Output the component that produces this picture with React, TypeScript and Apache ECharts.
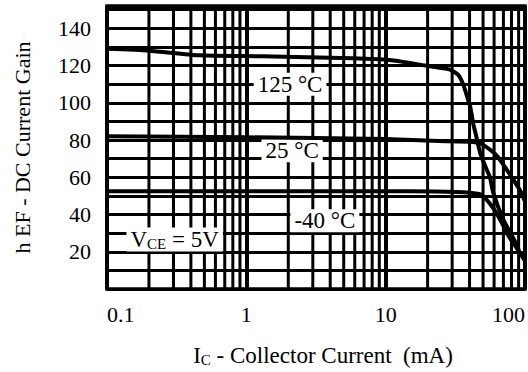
import React, { useEffect, useRef } from "react";
import * as echarts from "echarts";

const FONT = "'Liberation Serif', 'Times New Roman', serif";

// Collector current (mA) and DC current gain for each temperature
const ic125 = [0.1, 0.2, 0.46, 1.3, 5.8, 10.7, 19.3, 28.6, 33.2, 36, 38, 40.5, 42.5, 44.7, 47.7, 51.8, 56, 59, 69.6, 86, 92];
const hfe125 = [129, 128, 125.5, 125, 124, 123, 120, 118, 115, 110, 104.5, 97.7, 88.8, 82, 73, 66, 60, 52, 37.6, 24.6, 19];

const ic25 = [0.1, 1, 10, 24, 42.5, 50, 62, 75.6, 92, 100];
const hfe25 = [82, 81.5, 80.5, 79.5, 79, 77.5, 72, 63, 53, 47];

const icM40 = [0.1, 1, 10, 15, 47, 61, 77, 91, 100];
const hfeM40 = [52.5, 52.5, 52.5, 52.5, 51, 42, 28, 20, 15];

// Axis ticks
const yTickLabels = [20, 40, 60, 80, 100, 120, 140];
const minorGridX = [
  0.2, 0.3, 0.4, 0.5, 0.6, 0.7, 0.8, 0.9,
  2, 3, 4, 5, 6, 7, 8, 9,
  20, 30, 40, 50, 60, 70, 80, 90,
];
const Y_MIN = 0;
const Y_MAX = 152;

// Annotation texts and their anchor (current, gain)
const annotationText = ["125 °C", "25 °C", "-40 °C", "{v|V}{sub|CE}{v| = 5V}"];
const annotationIc = [2.06, 2.13, 3.66, 0.306];
const annotationHfe = [110, 74.2, 36.6, 26.6];

const toPairs = (xs: number[], ys: number[]) => xs.map((x, i) => [x, ys[i]]);

export default function App() {
  const ref = useRef<HTMLDivElement>(null);
  useEffect(() => {
    if (!ref.current) return;
    const chart = echarts.init(ref.current, undefined, { renderer: "svg" });
    const curve = (name: string, data: number[][]) => ({
      name,
      type: "line",
      data,
      symbol: "none",
      smooth: 0.2,
      z: 5,
      lineStyle: { color: "#000", width: 4 },
    });
    const tick = { fontFamily: FONT, fontSize: 22, color: "#000" };
    const big = { fontFamily: FONT, fontSize: 23, color: "#000" };
    const sub = { fontFamily: FONT, fontSize: 15, color: "#000", verticalAlign: "bottom", padding: [9, 0, 0, 0] };
    chart.setOption({
      animation: false,
      backgroundColor: "#fff",
      textStyle: { fontFamily: FONT },
      grid: {
        left: 107,
        right: 1,
        top: 6,
        bottom: 75,
        show: true,
        borderColor: "#000",
        borderWidth: 3.5,
      },
      xAxis: {
        type: "log",
        logBase: 10,
        min: 0.1,
        max: 100,
        axisLine: { show: false },
        axisTick: { show: false },
        splitLine: { show: true, lineStyle: { color: "#000", width: 4 } },
        axisLabel: {
          ...tick,
          margin: 14,
          alignMinLabel: "left",
          alignMaxLabel: "right",
          formatter: (v: number) => String(v),
        },
        name: "{i|I}{sub|C}{t| - Collector Current \u00a0(mA)}",
        nameLocation: "middle",
        nameGap: 54,
        nameTextStyle: {
          ...big,
          padding: [0, 0, 0, 14],
          rich: { i: big, t: big, sub },
        },
      },
      yAxis: {
        type: "value",
        min: Y_MIN,
        max: Y_MAX,
        interval: 10,
        axisLine: { show: false },
        axisTick: { show: false },
        splitLine: { show: true, lineStyle: { color: "#000", width: 3 } },
        axisLabel: {
          ...tick,
          margin: 16,
          formatter: (v: number) => (yTickLabels.includes(v) ? String(v) : ""),
        },
        name: "h EF - DC Current Gain",
        nameLocation: "middle",
        nameGap: 74,
        nameTextStyle: { ...tick },
      },
      series: [
        {
          type: "custom",
          z: 1,
          silent: true,
          clip: true,
          data: minorGridX.map((v) => [v]),
          encode: { x: 0 },
          renderItem: (_params: any, api: any) => {
            const v = api.value(0);
            const p0 = api.coord([v, Y_MIN]);
            const p1 = api.coord([v, Y_MAX]);
            return {
              type: "line",
              shape: { x1: p0[0], y1: p0[1], x2: p1[0], y2: p1[1] },
              style: { stroke: "#000", lineWidth: 3 },
            };
          },
        },
        curve("125", toPairs(ic125, hfe125)),
        curve("25", toPairs(ic25, hfe25)),
        curve("-40", toPairs(icM40, hfeM40)),
        {
          type: "line",
          data: [],
          z: 10,
          markPoint: {
            silent: true,
            symbol: "rect",
            symbolSize: 1,
            itemStyle: { color: "rgba(0,0,0,0)" },
            label: {
              show: true,
              position: "inside",
              backgroundColor: "#fff",
              padding: [0, 4, 0, 4],
              ...big,
              formatter: (p: any) => p.name,
              rich: { v: big, sub },
            },
            data: annotationText.map((t, i) => ({
              name: t,
              coord: [annotationIc[i], annotationHfe[i]],
            })),
          },
        },
      ],
    });
    return () => chart.dispose();
  }, []);
  return (
    <div
      ref={ref}
      style={{ position: "absolute", left: 0, top: 0, width: 528, height: 372 }}
    />
  );
}
